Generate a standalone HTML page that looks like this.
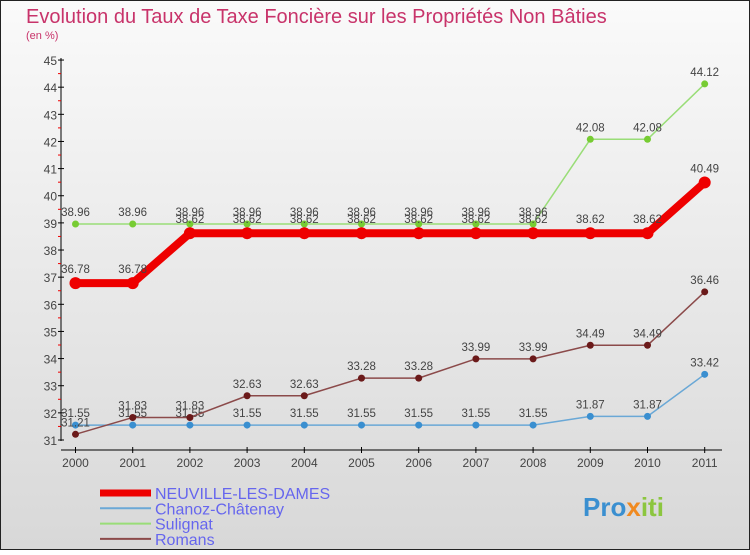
<!DOCTYPE html>
<html><head><meta charset="utf-8"><style>
body{margin:0;width:750px;height:550px;overflow:hidden;font-family:"Liberation Sans",sans-serif;}
</style></head><body>
<svg width="750" height="550" xmlns="http://www.w3.org/2000/svg">
<defs><linearGradient id="bg" x1="0" y1="0" x2="0" y2="1"><stop offset="0" stop-color="#fafafa"/><stop offset="1" stop-color="#d8d8d8"/></linearGradient></defs>
<rect x="0.5" y="0.5" width="749" height="549" fill="url(#bg)" stroke="#222"/>
<text x="26" y="23" font-size="20" fill="#c8336a" font-weight="300">Evolution du Taux de Taxe Foncière sur les Propriétés Non Bâties</text>
<text x="26" y="39" font-size="11" fill="#c8336a">(en %)</text>
<g id="axes"></g><g id="series"></g><g id="legend"></g>
<text x="583" y="516" font-size="26" font-weight="bold" fill="#3a8fd0">Pro<tspan fill="#f08a20">x</tspan><tspan fill="#8cc63f">iti</tspan></text>
</svg>
<script>
const years=['2000','2001','2002','2003','2004','2005','2006','2007','2008','2009','2010','2011'];
const neuville=[36.78,36.78,38.62,38.62,38.62,38.62,38.62,38.62,38.62,38.62,38.62,40.49];
const chanoz=[31.55,31.55,31.55,31.55,31.55,31.55,31.55,31.55,31.55,31.87,31.87,33.42];
const sulignat=[38.96,38.96,38.96,38.96,38.96,38.96,38.96,38.96,38.96,42.08,42.08,44.12];
const romans=[31.21,31.83,31.83,32.63,32.63,33.28,33.28,33.99,33.99,34.49,34.49,36.46];
const yTicks=[31,32,33,34,35,36,37,38,39,40,41,42,43,44,45];
const NS='http://www.w3.org/2000/svg';
const X=i=>75.5+i*57.2, Y=v=>440-(v-31)*27.14;
function mk(t,a,p){const e=document.createElementNS(NS,t);for(const k in a)e.setAttribute(k,a[k]);p.appendChild(e);return e;}
const ax=document.getElementById('axes');
let l=mk('line',{x1:61,y1:58,x2:61,y2:441,stroke:'#000'},ax);


l=mk('line',{x1:61,y1:450,x2:722,y2:450,stroke:'#000'},ax);


yTicks.forEach(v=>{mk('line',{x1:58,y1:Y(v),x2:64,y2:Y(v),stroke:'#000'},ax);
 if(v<45)mk('line',{x1:58,y1:Y(v+0.5),x2:61,y2:Y(v+0.5),stroke:'#e00'},ax);
 const t=mk('text',{x:57,y:Y(v)+5,'text-anchor':'end','font-size':12,fill:'#444'},ax);t.textContent=v;
 
 });
years.forEach((y,i)=>{mk('line',{x1:X(i),y1:447,x2:X(i),y2:453,stroke:'#000'},ax);
 const t=mk('text',{x:X(i),y:467,'text-anchor':'middle','font-size':12,fill:'#444'},ax);t.textContent=y;
 
 });
const sg=document.getElementById('series');
function draw(data,color,pc,w,r,name,labelDy){
 const g=mk('g',{},sg);
 
 
 mk('polyline',{points:data.map((v,i)=>X(i)+','+Y(v)).join(' '),fill:'none',stroke:color,'stroke-width':w,'stroke-linejoin':'round'},g);
 data.forEach((v,i)=>{const c=mk('circle',{cx:X(i),cy:Y(v),r:r,fill:pc},g);
  
  
  const t=mk('text',{x:X(i),y:Y(v)-labelDy,'text-anchor':'middle','font-size':11.5,fill:'#444'},g);t.textContent=v;});
}
draw(sulignat,'#99dd77','#77cc33',1.5,3.5,'sulignat',8);
draw(chanoz,'#6aa8d6','#3a8fd0',1.5,3.5,'chanoz',8);
draw(romans,'#8b4a4a','#6b1a1a',1.5,3.5,'romans',8);
draw(neuville,'#ee0000','#ee0000',8,6,'neuville',10);
const lg=document.getElementById('legend');
[['NEUVILLE-LES-DAMES','#ee0000',7],['Chanoz-Châtenay','#6aa8d6',2],['Sulignat','#99dd77',2],['Romans','#8b4a4a',2]].forEach((d,i)=>{
 const y=493+i*15.3;
 const g=mk('g',{},lg);
 
 
 mk('line',{x1:100,y1:y,x2:151,y2:y,stroke:d[1],'stroke-width':d[2]},g);
 const t=mk('text',{x:155,y:y+6,'font-size':16,fill:'#6666ee','font-weight':'300'},g);t.textContent=d[0];});
</script>
</body></html>
